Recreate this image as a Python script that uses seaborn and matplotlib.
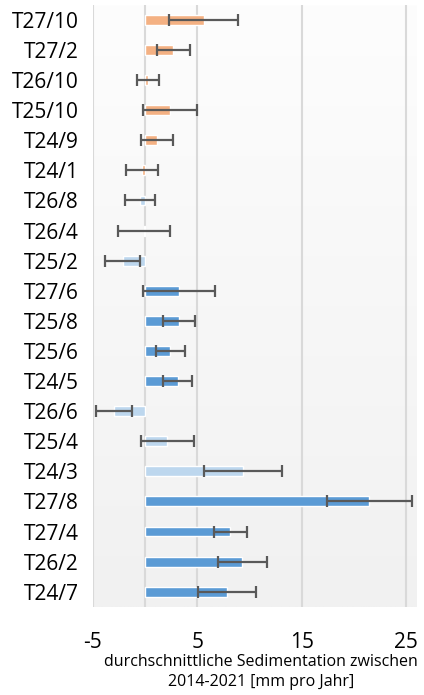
import matplotlib
matplotlib.use("Agg")
import matplotlib.pyplot as plt
import numpy as np
import pandas as pd
import seaborn as sns

# sites from top to bottom
sites = ["T27/10", "T27/2", "T26/10", "T25/10", "T24/9", "T24/1",
         "T26/8", "T26/4", "T25/2",
         "T27/6", "T25/8", "T25/6", "T24/5",
         "T26/6", "T25/4", "T24/3",
         "T27/8", "T27/4", "T26/2", "T24/7"]
sedimentation = [5.6, 2.7, 0.28, 2.4, 1.12, -0.3,
                 -0.45, -0.08, -2.15,
                 3.25, 3.27, 2.42, 3.14,
                 -3.0, 2.12, 9.4,
                 21.45, 8.15, 9.3, 7.85]
errors = [3.3, 1.55, 1.07, 2.6, 1.55, 1.54,
          1.43, 2.47, 1.65,
          3.43, 1.55, 1.4, 1.38,
          1.72, 2.53, 3.72,
          4.07, 1.56, 2.37, 2.75]
groups = ["A"] * 6 + ["B"] * 3 + ["C"] * 4 + ["B"] * 3 + ["C"] * 4

colors = {"A": "#F4B183", "B": "#BDD7EE", "C": "#5B9BD5"}

df = pd.DataFrame({"site": sites, "value": sedimentation, "err": errors, "group": groups})

sns.set_style("white")
plt.rcParams["font.family"] = ["Open Sans", "DejaVu Sans"]
plt.rcParams["axes.unicode_minus"] = False

fig = plt.figure(figsize=(4.24, 6.95), dpi=100)
ax = fig.add_axes([0.219, 0.127, 0.764, 0.866])

# light gradient background like the spreadsheet chart
grad = np.linspace(1.0, 0.0, 256).reshape(-1, 1)
ax.imshow(grad, extent=[-5, 26, 19.5, -0.5], aspect="auto",
          cmap=matplotlib.colors.LinearSegmentedColormap.from_list("bg", ["#f1f1f1", "#fdfdfd"]),
          zorder=0)

sns.barplot(data=df, y="site", x="value", hue="group", palette=colors,
            order=sites, dodge=False, width=0.33, legend=False,
            saturation=1, ax=ax, zorder=3)

ypos = np.arange(len(sites))
ax.errorbar(df["value"], ypos, xerr=df["err"], fmt="none", ecolor="#595959",
            elinewidth=1.6, capsize=4, capthick=1.6, zorder=4)

ax.set_xlim(-5, 26)
ax.set_ylim(19.5, -0.5)
ax.set_xticks([-5, 5, 15, 25])
for x in [-5, 0, 5, 15, 25]:
    ax.axvline(x, color="#d9d9d9", lw=1.5, zorder=1)

for s in ax.spines.values():
    s.set_visible(False)

ax.tick_params(axis="y", length=0, pad=10, labelsize=15, labelcolor="black")
ax.tick_params(axis="x", length=0, pad=18, labelsize=15, labelcolor="black")
ax.set_ylabel("")
ax.set_xlabel("durchschnittliche Sedimentation zwischen\n2014-2021 [mm pro Jahr]",
              fontsize=11.5, color="black", linespacing=1.35)
ax.xaxis.set_label_coords(0.52, -0.079, transform=ax.transAxes)
ax.xaxis.label.set_va("top")

fig.savefig("out.png", dpi=100)
